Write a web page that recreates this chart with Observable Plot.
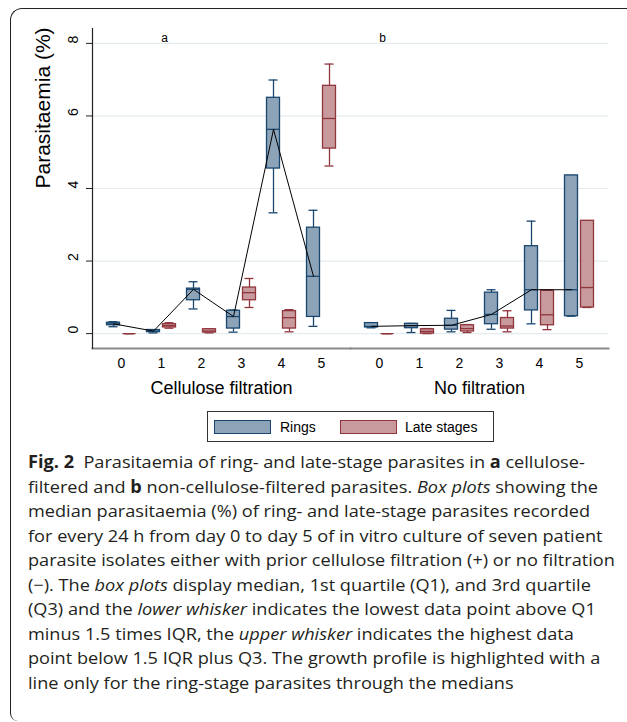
<!DOCTYPE html>
<html><head><meta charset="utf-8">
<script src="https://cdn.jsdelivr.net/npm/d3@7"></script>
<script src="https://cdn.jsdelivr.net/npm/@observablehq/plot@0.6"></script>
<style>
html,body{margin:0;padding:0;background:#fff;width:627px;height:722px;overflow:hidden;}
#frame{position:absolute;left:10px;top:8px;width:640px;height:712px;border-top:1.5px solid #222;border-left:1.5px solid #222;border-top-left-radius:12px;border-bottom-left-radius:8px;}
#chart{position:absolute;left:0;top:0;}
#legend{position:absolute;left:207px;top:411px;width:285px;height:29px;border:1px solid #333;font-family:"Liberation Sans",Arial,sans-serif;font-size:14px;color:#000;}
.sw{position:absolute;top:8px;width:55px;height:12px;}
.lt{position:absolute;top:7px;line-height:16px;}
#caption{position:absolute;left:28px;top:450px;font-family:"Open Sans";font-size:17px;line-height:24.5px;color:#231f20;white-space:nowrap;transform-origin:0 0;}
#caption div{height:24.5px;}
</style></head><body>
<div id="frame"></div>
<div id="chart"></div>
<div id="legend">
  <div class="sw" style="left:6px;background:#8ca3b8;border:1.5px solid #1a476f;"></div>
  <div class="lt" style="left:72px;">Rings</div>
  <div class="sw" style="left:132px;background:#c89a9e;border:1.5px solid #90353b;"></div>
  <div class="lt" style="left:197px;">Late stages</div>
</div>
<div id="caption">
<div id="l1"><b>Fig. 2</b>&nbsp; Parasitaemia of ring- and late-stage parasites in <b>a</b> cellulose-</div>
<div id="l2"><span id="l2s">filtered and <b>b</b> non-cellulose-filtered parasites. <i>Box plots</i> showing the</span></div>
<div>median parasitaemia (%) of ring- and late-stage parasites recorded</div>
<div>for every 24 h from day 0 to day 5 of in vitro culture of seven patient</div>
<div>parasite isolates either with prior cellulose filtration (+) or no filtration</div>
<div>(−). The <i>box plots</i> display median, 1st quartile (Q1), and 3rd quartile</div>
<div>(Q3) and the <i>lower whisker</i> indicates the lowest data point above Q1</div>
<div>minus 1.5 times IQR, the <i>upper whisker</i> indicates the highest data</div>
<div>point below 1.5 IQR plus Q3. The growth profile is highlighted with a</div>
<div>line only for the ring-stage parasites through the medians</div>
</div>
<script>
const days = [0, 1, 2, 3, 4, 5];
const panels = ["Cellulose filtration", "No filtration"];
const panelLetters = ["a", "b"];
const letterDays = [1, 0];
const stages = ["Rings", "Late stages"];
const yTicks = [0, 2, 4, 6, 8];

// Panel a (cellulose filtration), rings
const aRingMin = [0.19, 0.02, 0.68, 0.04, 3.33, 0.20];
const aRingQ1  = [0.23, 0.04, 0.92, 0.14, 4.55, 0.46];
const aRingMed = [0.27, 0.07, 1.22, 0.47, 5.63, 1.58];
const aRingQ3  = [0.30, 0.10, 1.24, 0.63, 6.50, 2.92];
const aRingMax = [0.33, 0.11, 1.43, 0.65, 6.99, 3.40];
// Panel a, late stages
const aLateMin = [0.00, 0.15, 0.02, 0.72, 0.05, 4.62];
const aLateQ1  = [0.00, 0.17, 0.03, 0.92, 0.14, 5.10];
const aLateMed = [0.00, 0.22, 0.07, 1.13, 0.44, 5.93];
const aLateQ3  = [0.00, 0.26, 0.12, 1.27, 0.62, 6.83];
const aLateMax = [0.00, 0.30, 0.13, 1.52, 0.66, 7.43];
// Panel b (no filtration), rings
const bRingMin = [0.16, 0.03, 0.05, 0.12, 0.27, 0.48];
const bRingQ1  = [0.17, 0.15, 0.11, 0.26, 0.64, 0.48];
const bRingMed = [0.20, 0.22, 0.23, 0.53, 1.21, 1.21];
const bRingQ3  = [0.29, 0.27, 0.41, 1.13, 2.41, 4.36];
const bRingMax = [0.29, 0.28, 0.64, 1.21, 3.10, 4.36];
// Panel b, late stages
const bLateMin = [0.00, 0.00, 0.03, 0.05, 0.11, 0.72];
const bLateQ1  = [0.00, 0.00, 0.06, 0.14, 0.23, 0.72];
const bLateMed = [0.00, 0.06, 0.14, 0.21, 0.52, 1.27];
const bLateQ3  = [0.00, 0.12, 0.23, 0.43, 1.18, 3.11];
const bLateMax = [0.00, 0.14, 0.25, 0.63, 1.20, 3.11];

const rows = [];
function addRows(panel, stage, mins, q1s, meds, q3s, maxs) {
  days.forEach((d, i) => rows.push({panel, stage, day: d, min: mins[i], q1: q1s[i], med: meds[i], q3: q3s[i], max: maxs[i]}));
}
addRows(panels[0], stages[0], aRingMin, aRingQ1, aRingMed, aRingQ3, aRingMax);
addRows(panels[0], stages[1], aLateMin, aLateQ1, aLateMed, aLateQ3, aLateMax);
addRows(panels[1], stages[0], bRingMin, bRingQ1, bRingMed, bRingQ3, bRingMax);
addRows(panels[1], stages[1], bLateMin, bLateQ1, bLateMed, bLateQ3, bLateMax);

function stageMarks(stage, stroke, fill, side) {
  const data = rows.filter(r => r.stage === stage);
  const boxIn = side < 0 ? {insetLeft: 5.5, insetRight: 21.5} : {insetLeft: 21.5, insetRight: 5.5};
  const capIn = side < 0 ? {insetLeft: 7.5, insetRight: 23.5} : {insetLeft: 23.5, insetRight: 7.5};
  const sw = 1.3;
  return [
    Plot.ruleX(data, {fx: "panel", x: "day", y1: "min", y2: "max", dx: side * 8, stroke, strokeWidth: sw}),
    Plot.tickY(data, {fx: "panel", x: "day", y: "min", stroke, strokeWidth: sw, ...capIn}),
    Plot.tickY(data, {fx: "panel", x: "day", y: "max", stroke, strokeWidth: sw, ...capIn}),
    Plot.barY(data, {fx: "panel", x: "day", y1: "q1", y2: "q3", fill, stroke, strokeWidth: sw, ...boxIn}),
    Plot.tickY(data, {fx: "panel", x: "day", y: "med", stroke, strokeWidth: sw, ...boxIn})
  ];
}

const chart = Plot.plot({
  width: 627,
  height: 400,
  marginLeft: 92,
  marginRight: 19,
  marginTop: 28,
  marginBottom: 52,
  style: {fontFamily: "'Liberation Sans', Arial, sans-serif", fontSize: "14px", color: "#000", background: "transparent"},
  fx: {domain: panels, padding: 0, axis: null},
  x: {type: "band", domain: days, padding: 0, inset: 9, axis: null},
  y: {domain: [-0.41, 8.41], axis: null},
  marks: [
    Plot.gridY(yTicks, {stroke: "#e4ecef", strokeOpacity: 1, strokeWidth: 1.2}),
    Plot.frame({anchor: "bottom", stroke: "#8a8a8a", strokeWidth: 2}),
    Plot.frame({anchor: "left", stroke: "#222", strokeWidth: 1.2, facetAnchor: "left"}),
    Plot.axisY(yTicks, {tickSize: 6, tickFormat: () => "", label: null, stroke: "#222"}),
    Plot.text(yTicks, {y: d => d, text: d => String(d), frameAnchor: "left", rotate: -90, dx: -19, fontSize: 14, facetAnchor: "left"}),
    Plot.axisX({tickSize: 0, tickPadding: 10, fontSize: 14, label: null}),
    ...stageMarks(stages[0], "#1a476f", "#8ca3b8", -1),
    ...stageMarks(stages[1], "#90353b", "#c89a9e", 1),
    Plot.line(rows.filter(r => r.stage === stages[0]), {fx: "panel", x: "day", y: "med", dx: -8, stroke: "#000", strokeWidth: 1}),
    Plot.text(panels, {fx: d => d, text: d => d, frameAnchor: "bottom", dy: 45, fontSize: 18}),
    Plot.text(panels, {fx: d => d, x: (d, i) => letterDays[i], text: (d, i) => panelLetters[i], frameAnchor: "top", dy: 5, dx: 3, fontSize: 12}),
    Plot.text([panels[0]], {fx: d => d, text: () => "Parasitaemia (%)", frameAnchor: "left", rotate: -90, dx: -49, fontSize: 21})
  ]
});
document.getElementById("chart").appendChild(chart);

// fit caption width to the reference column
const cap = document.getElementById("caption");
const k = 570 / document.getElementById("l2s").getBoundingClientRect().width;
cap.style.transform = `scaleX(${k})`;
</script>
</body></html>
